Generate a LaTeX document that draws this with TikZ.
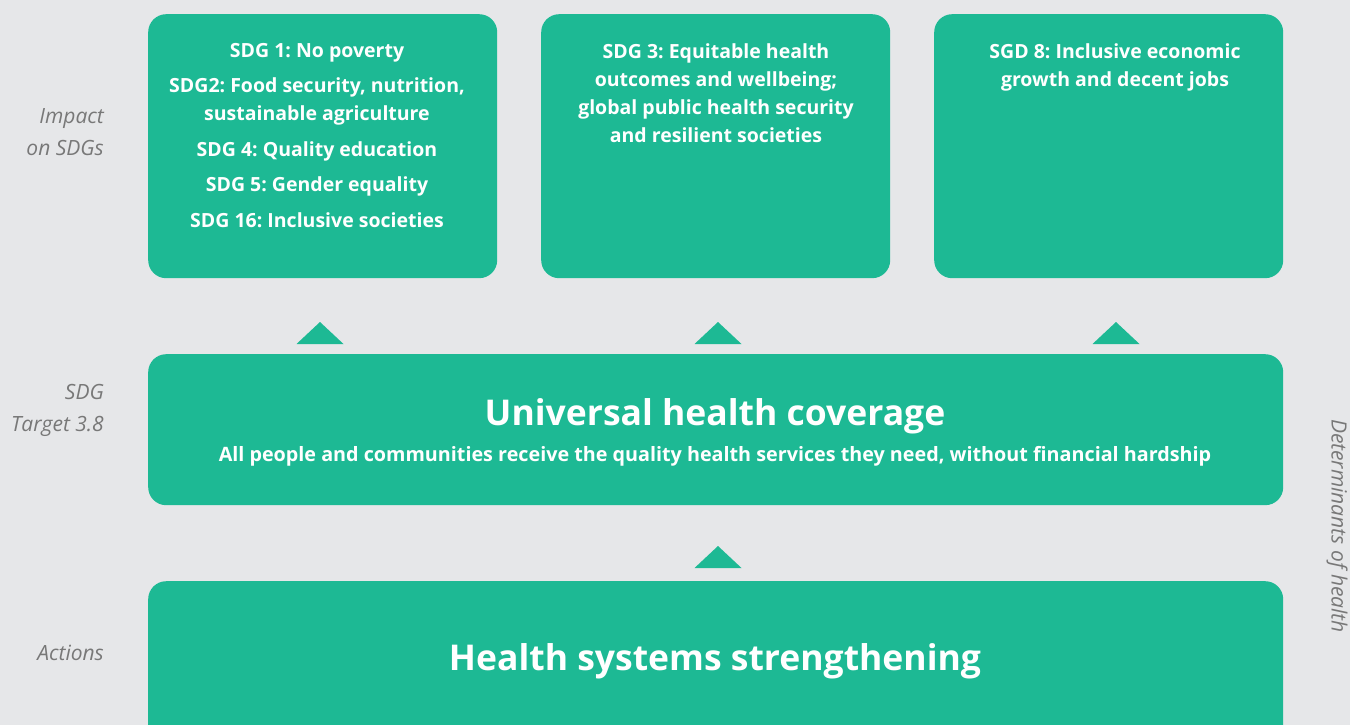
\documentclass[tikz,border=0pt]{standalone}
\usepackage{fontspec}
\setmainfont{Open Sans}[Ligatures=NoCommon]
\frenchspacing
\usetikzlibrary{positioning}
\definecolor{sdgteal}{HTML}{1DB994}
\definecolor{sdgback}{HTML}{E6E7E9}
\definecolor{sidegrey}{HTML}{787878}
\tikzset{every picture/.style={x=1pt, y=-1pt}}
\tikzset{sdgbox/.style={fill=sdgteal, draw=none, rounded corners=18pt, inner sep=0pt, anchor=north west}}
\tikzset{boxtext/.style={text=white, font=\bfseries\fontsize{19.5}{28}\selectfont, align=center, inner sep=0pt}}
\tikzset{sidelabel/.style={text=sidegrey, font=\itshape\fontsize{21}{32}\selectfont, align=right, anchor=east, inner sep=0pt}}
\tikzset{uparrow/.style={fill=sdgteal}}

\begin{document}
\begin{tikzpicture}
\useasboundingbox[fill=sdgback] (0,0) rectangle (1350,725);
\clip (0,0) rectangle (1350,725);
% boxes
\node[sdgbox, minimum width=349pt, minimum height=264pt] (sdgA) at (148,14) {};
\node[sdgbox, minimum width=349pt, minimum height=264pt] (sdgB) at (541,14) {};
\node[sdgbox, minimum width=349pt, minimum height=264pt] (sdgC) at (934,14) {};
\node[sdgbox, minimum width=1135pt, minimum height=151pt] (uhc) at (148,354) {};
\node[sdgbox, minimum width=1135pt, minimum height=170pt] (hss) at (148,581) {};
% arrows
\foreach \cx in {320,718,1116}
  \fill[uparrow] (\cx-23.5,344) -- (\cx,322) -- (\cx+23.5,344) -- cycle;
\fill[uparrow] (694.5,568) -- (718,546) -- (741.5,568) -- cycle;
% texts
\node[boxtext, anchor=north] (sdgAtext) at (317,43) {SDG 1: No poverty\\[7pt]
  SDG2: Food security, nutrition,\\ sustainable agriculture\\[8pt]
  SDG 4: Quality education\\[7pt] SDG 5: Gender equality\\[8pt]
  SDG 16: Inclusive societies};
\node[boxtext, anchor=north] (sdgBtext) at (716,43) {SDG 3: Equitable health\\
  outcomes and wellbeing;\\ global public health security\\ and resilient societies};
\node[boxtext, anchor=north] (sdgCtext) at (1115,43) {SGD 8: Inclusive economic\\
  growth and decent jobs};
\node[boxtext, font=\bfseries\fontsize{35.5}{40}\selectfont] (uhctitle) at (715,416) {Universal health coverage};
\node[boxtext, font=\bfseries\fontsize{19.75}{24}\selectfont] (uhcsub) at (715,456)
  {All people and communities receive the quality health services they need, without financial hardship};
\node[boxtext, font=\bfseries\fontsize{35.5}{40}\selectfont] (hsstitle) at (715,661) {Health systems strengthening};
% side labels
\node[sidelabel] (impact) at (104,132) {Impact\\ on SDGs};
\node[sidelabel] (target) at (104,410) {SDG\\ Target 3.8};
\node[sidelabel] (actions) at (104,653) {Actions};
\node[sidelabel, anchor=center, rotate=-90] (determinants) at (1337,526) {Determinants of health};
\end{tikzpicture}
\end{document}
